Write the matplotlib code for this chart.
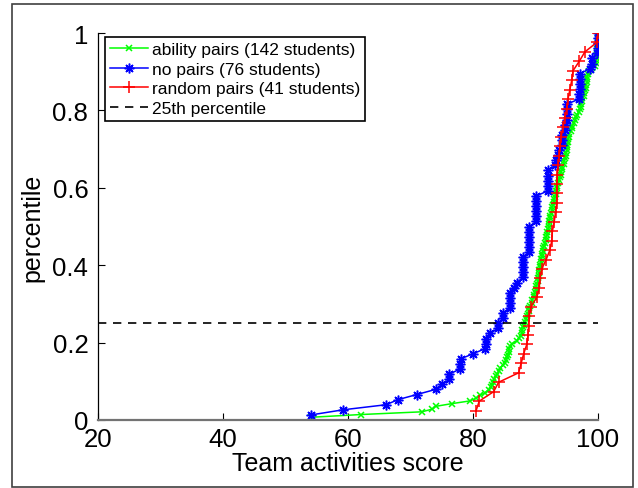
import matplotlib
matplotlib.use("Agg")
import matplotlib.pyplot as plt
import numpy as np
from matplotlib.patches import Rectangle

plt.rcParams["font.family"] = ["Liberation Sans", "DejaVu Sans"]

# sorted scores (each point is one student)
ability_scores = [
    54.1, 62.0, 71.8, 73.5, 74.0, 76.6, 79.5, 80.5, 81.1, 81.9,
    82.5, 82.8, 83.1, 83.2, 83.4, 83.7, 83.9, 84.1, 84.3, 84.8,
    85.1, 85.3, 85.5, 85.6, 85.7, 85.8, 85.9, 86.3, 87.0, 87.3,
    87.6, 87.8, 87.9, 88.0, 88.1, 88.3, 88.5, 88.6, 88.8, 88.9,
    89.0, 89.1, 89.4, 89.5, 89.7, 89.8, 89.9, 90.0, 90.1, 90.3,
    90.4, 90.4, 90.5, 90.6, 90.6, 90.7, 90.7, 90.8, 90.9, 91.0,
    91.1, 91.2, 91.2, 91.4, 91.5, 91.6, 91.7, 91.8, 91.9, 92.0,
    92.1, 92.1, 92.2, 92.3, 92.3, 92.5, 92.6, 92.7, 92.8, 92.9,
    93.0, 93.1, 93.2, 93.3, 93.4, 93.5, 93.6, 93.8, 93.9, 94.0,
    94.1, 94.2, 94.3, 94.5, 94.6, 94.7, 94.8, 94.9, 95.0, 95.1,
    95.1, 95.2, 95.2, 95.3, 95.4, 95.6, 95.8, 95.9, 96.1, 96.3,
    96.4, 96.6, 96.9, 97.1, 97.2, 97.3, 97.4, 97.5, 97.7, 97.8,
    97.9, 98.0, 98.1, 98.2, 98.3, 98.3, 98.4, 98.6, 99.0, 99.5,
    99.6, 99.7, 99.8, 99.8, 99.9, 99.9, 100.0, 100.0, 100.0, 100.0,
    100.0, 100.0,
]

no_pair_scores = [
    54.1, 59.2, 66.1, 68.0, 71.0, 74.0, 75.1, 76.2, 76.2, 77.9,
    77.9, 78.0, 80.0, 81.9, 82.1, 82.1, 82.7, 84.0, 84.0, 84.8,
    84.8, 85.9, 85.9, 85.9, 85.9, 86.5, 87.0, 88.0, 88.0, 88.0,
    88.0, 88.0, 89.0, 89.0, 89.0, 89.0, 89.0, 89.0, 90.1, 90.1,
    90.1, 90.1, 90.1, 90.1, 92.0, 92.0, 92.0, 92.0, 92.0, 93.1,
    93.3, 93.6, 93.8, 94.2, 94.2, 94.2, 94.7, 94.7, 95.0, 95.0,
    95.0, 95.0, 96.9, 97.0, 97.1, 97.1, 97.1, 97.1, 98.7, 99.0,
    99.0, 99.8, 100.0, 100.0, 100.0, 100.0,
]

random_scores = [
    80.5, 81.0, 83.3, 84.1, 87.3, 87.7, 88.1, 88.6, 88.8, 88.9,
    89.0, 89.3, 90.2, 90.6, 90.7, 91.0, 91.7, 92.3, 92.6, 92.7,
    93.0, 93.2, 93.4, 93.4, 93.4, 93.5, 93.6, 93.8, 93.9, 94.1,
    94.4, 94.7, 95.0, 95.2, 95.5, 95.8, 96.0, 97.0, 97.9, 99.8,
    100.0,
]

series = [
    ("ability pairs (142 students)", ability_scores, (0, 1, 0), "x", 5),
    ("no pairs (76 students)", no_pair_scores, (0, 0, 1), (8, 2, 0), 7),
    ("random pairs (41 students)", random_scores, (1, 0, 0), "+", 9),
]

fig = plt.figure(figsize=(6.38, 4.89), dpi=100)
fig.patches.append(Rectangle((12 / 638, 0.002), 621 / 638, 483 / 489,
                             transform=fig.transFigure, fill=False,
                             edgecolor="0.25", linewidth=1.2))
ax = fig.add_axes([98 / 638, 68 / 489, 500 / 638, 387 / 489])

for label, scores, color, marker, msize in series:
    x = np.array(scores)
    # empirical cdf: rank / n
    y = np.arange(1, len(x) + 1) / len(x)
    ax.plot(x, y, color=color, marker=marker, markersize=msize,
            markeredgewidth=1.1, linewidth=1.1, label=label)

ax.plot([20, 100], [0.25, 0.25], "k--", linewidth=1.2,
        dashes=(5, 4), label="25th percentile")

ax.set_xlim(20, 100)
ax.set_ylim(0, 1)
ax.set_xticks([20, 40, 60, 80, 100])
ax.set_yticks([0, 0.2, 0.4, 0.6, 0.8, 1])
ax.set_yticklabels(["0", "0.2", "0.4", "0.6", "0.8", "1"])
ax.tick_params(direction="in", length=5, labelsize=18.5, width=0.8)
ax.tick_params(axis="y", pad=7)
ax.tick_params(axis="x", pad=5)
ax.spines["top"].set_visible(False)
ax.spines["right"].set_visible(False)
ax.spines["bottom"].set_color("0.45")
ax.spines["bottom"].set_linewidth(1.6)
ax.spines["left"].set_linewidth(0.9)
ax.set_xlabel("Team activities score", fontsize=18, labelpad=0)
ax.set_ylabel("percentile", fontsize=18, labelpad=6)

leg = ax.legend(loc="upper left", bbox_to_anchor=(0.014, 0.99),
                fontsize=12.5, fancybox=False, framealpha=1,
                edgecolor="black", handlelength=2.2, handletextpad=0.2,
                borderpad=0.3, labelspacing=0.25, borderaxespad=0)
leg.get_frame().set_linewidth(1.2)

fig.savefig("out.png", dpi=100)
